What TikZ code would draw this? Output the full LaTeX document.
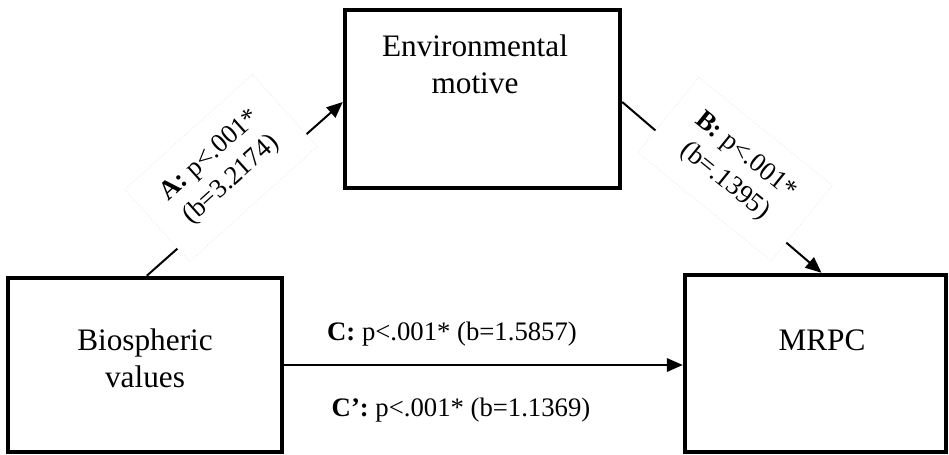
\documentclass[tikz,border=0pt]{standalone}
\usepackage{fontspec}
\setmainfont{Liberation Serif}
\usetikzlibrary{arrows.meta,calc}
\begin{document}
\begin{tikzpicture}[x=0.02cm,y=-0.02cm,
  box/.style={draw,line width=0.09cm,inner sep=0pt},
  boxtext/.style={align=center,font=\fontsize{17.8}{21}\selectfont,inner sep=0pt},
  conn/.style={line width=0.04cm,-{Triangle[length=0.32cm,width=0.27cm]}},
  lbl/.style={font=\fontsize{15.2}{18.5}\selectfont,inner sep=0pt},
  rlbl/.style={lbl,fill=white,draw=gray!22,densely dotted,line width=0.4pt,align=center,
    minimum width=3.44cm,minimum height=1.94cm}]
\useasboundingbox (0,0) rectangle (949,454);
% boxes
\node[box,minimum width=5.48cm,minimum height=3.48cm] (bio) at (145,365) {};
\node[box,minimum width=5.5cm,minimum height=3.56cm] (env) at (482.5,99) {};
\node[box,minimum width=5.22cm,minimum height=3.54cm] (mrpc) at (815.5,363.5) {};
% box texts
\node[boxtext] (biot) at (145,358) {Biospheric\\values};
\node[boxtext] (envt) at (475,64) {Environmental\\motive};
\node[boxtext] (mrpct) at (822,340) {MRPC};
% connectors
\draw[conn] ($(bio.north west)+(141,0)$) -- ($(env.west)+(0,3)$);
\draw[conn] ($(env.east)+(0,3)$) -- ($(mrpc.north)+(6,0)$);
\draw[conn] (bio.east) -- (bio.east -| mrpc.west);
% labels on diagonal paths
\node[rlbl,rotate=42] (la) at (221,168) {\textbf{A:} p<.001*\\(b=3.2174)};
\node[rlbl,rotate=-39] (lb) at (735,169) {\textbf{B:} p<.001*\\(b=.1395)};
% labels on horizontal path
\node[lbl] (lc) at (452,334) {\textbf{C:} p<.001* (b=1.5857)};
\node[lbl] (lcp) at (461,410) {\textbf{C’:} p<.001* (b=1.1369)};
\end{tikzpicture}
\end{document}
